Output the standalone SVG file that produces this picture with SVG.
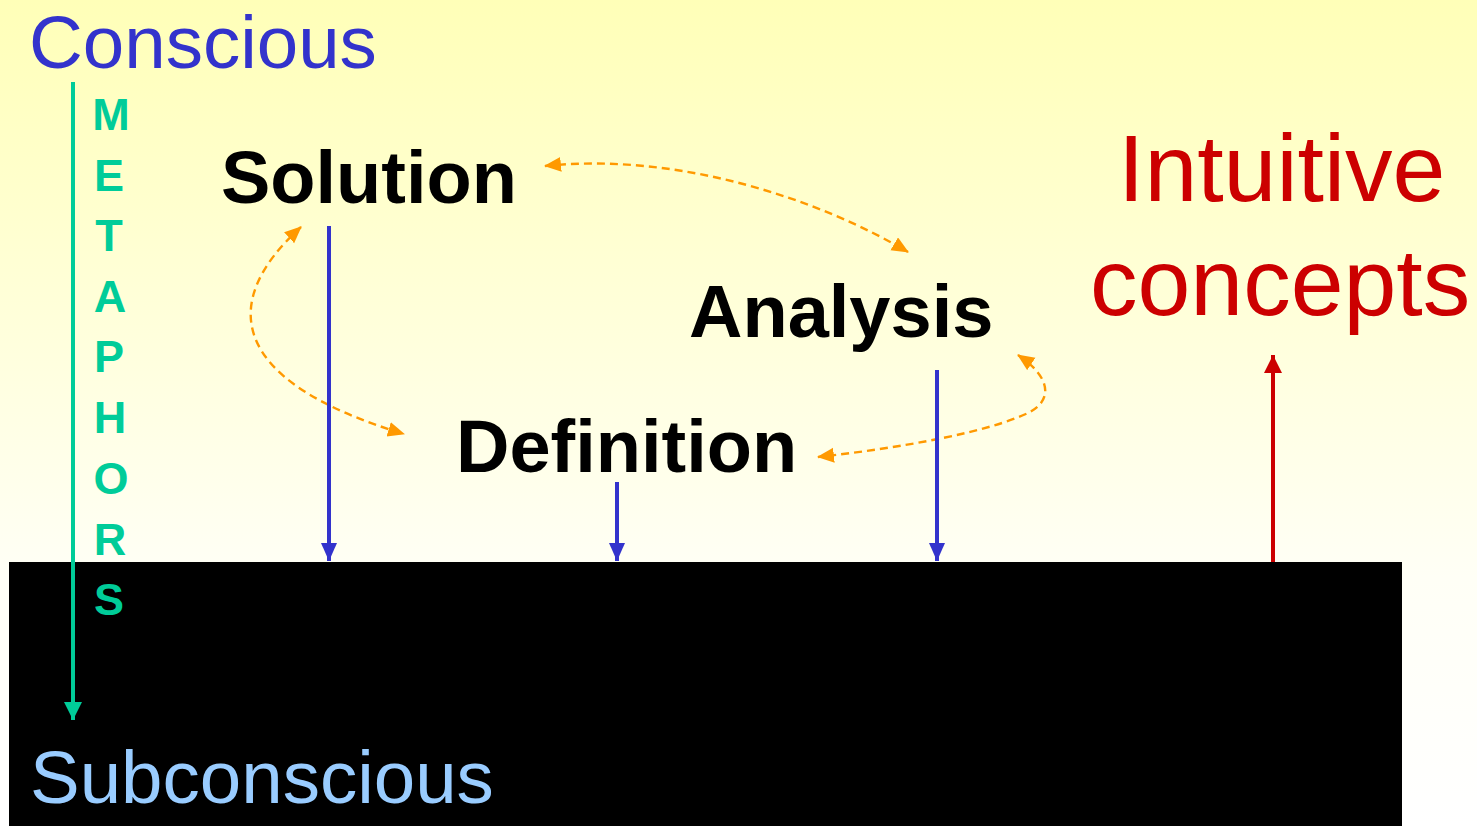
<svg xmlns="http://www.w3.org/2000/svg" width="1477" height="826" viewBox="0 0 1477 826">
<style>
.t{font-family:"Liberation Sans",Arial,sans-serif}
.b{font-weight:bold;fill:#000}
.m{font-family:"Liberation Sans",Arial,sans-serif;font-weight:bold;font-size:45px;fill:#00CC99;text-anchor:middle}
.blue{stroke:#3333CC;stroke-width:4;fill:none;marker-end:url(#ab)}
.dash{stroke:#FF9900;stroke-width:2.4;fill:none;stroke-dasharray:8 5;marker-start:url(#ao);marker-end:url(#ao)}
</style>
<defs>
<linearGradient id="bg" x1="0" y1="0" x2="0" y2="1">
<stop offset="0" stop-color="#FFFFB8"/>
<stop offset="0.7" stop-color="#FFFFF6"/>
<stop offset="1" stop-color="#FFFFFF"/>
</linearGradient>
<marker id="ab" markerUnits="userSpaceOnUse" markerWidth="20" markerHeight="18" refX="18" refY="8" orient="auto"><path d="M0,0 L18,8 L0,16 z" fill="#3333CC"/></marker>
<marker id="ar" markerUnits="userSpaceOnUse" markerWidth="20" markerHeight="20" refX="18" refY="9" orient="auto"><path d="M0,0 L18,9 L0,18 z" fill="#CC0000"/></marker>
<marker id="ag" markerUnits="userSpaceOnUse" markerWidth="20" markerHeight="20" refX="18" refY="9" orient="auto"><path d="M0,0 L18,9 L0,18 z" fill="#00CC99"/></marker>
<marker id="ao" markerUnits="userSpaceOnUse" markerWidth="18" markerHeight="16" refX="16" refY="7.5" orient="auto-start-reverse"><path d="M0,0 L17,7.5 L0,15 z" fill="#FF9900"/></marker>
</defs>
<rect width="1477" height="826" fill="url(#bg)"/>
<rect id="subconscious-area" x="9" y="562" width="1393" height="264" fill="#000"/>
<g id="connectors">
<path class="dash" d="M545,166 C680,152 820,200 908,252"/>
<path class="dash" d="M301,227 C220,300 225,380 404,434"/>
<path class="dash" d="M1018,355 C1048,375 1055,398 1030,412 C990,432 900,448 818,457"/>
<line class="blue" x1="329" y1="226" x2="329" y2="561"/>
<line class="blue" x1="617" y1="482" x2="617" y2="561"/>
<line class="blue" x1="937" y1="370" x2="937" y2="561"/>
<line x1="1273" y1="562" x2="1273" y2="355" stroke="#CC0000" stroke-width="4" marker-end="url(#ar)"/>
<line x1="73" y1="82" x2="73" y2="720" stroke="#00CC99" stroke-width="4" marker-end="url(#ag)"/>
</g>
<g id="conscious"><text class="t" x="29" y="68" font-size="74.5" fill="#3333CC">Conscious</text></g>
<g id="metaphors">
<text class="m" x="111" y="130">M</text>
<text class="m" x="109" y="191">E</text>
<text class="m" x="109" y="251">T</text>
<text class="m" x="110" y="312">A</text>
<text class="m" x="109" y="372">P</text>
<text class="m" x="110" y="433">H</text>
<text class="m" x="111" y="494">O</text>
<text class="m" x="110" y="555">R</text>
<text class="m" x="109" y="615">S</text>
</g>
<g id="solution"><text class="t b" x="221" y="203" font-size="74">Solution</text></g>
<g id="analysis"><text class="t b" x="689" y="337" font-size="74">Analysis</text></g>
<g id="definition"><text class="t b" x="456" y="472" font-size="74">Definition</text></g>
<g id="intuitive-concepts"><text class="t" font-size="95" fill="#CC0000"><tspan x="1118" y="201">Intuitive</tspan><tspan x="1090" y="315">concepts</tspan></text></g>
<g id="subconscious"><text class="t" x="30" y="803" font-size="74.5" fill="#99CCFF">Subconscious</text></g>
</svg>
